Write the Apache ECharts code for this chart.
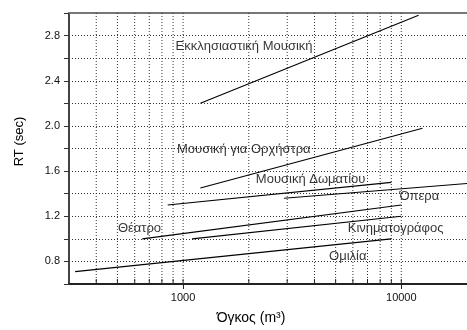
<!DOCTYPE html>
<html>
<head>
<meta charset="utf-8">
<script src="https://cdn.jsdelivr.net/npm/echarts@6/dist/echarts.min.js"></script>
<style>html,body{margin:0;padding:0;background:#fff;}#c{width:467px;height:330px;}</style>
</head>
<body>
<div id="c"></div>
<script>
// ---- data ----
const seriesNames = ['Εκκλησιαστική Μουσική', 'Μουσική για Ορχήστρα', 'Μουσική Δωματίου', 'Όπερα', 'Θέατρο', 'Κινηματογράφος', 'Ομιλία'];
const volumeStart = [1200, 1200, 850, 2900, 650, 1100, 320];
const volumeEnd   = [12000, 12500, 9000, 20000, 10000, 10000, 9000];
const rtStart     = [2.20, 1.45, 1.30, 1.36, 1.00, 1.00, 0.71];
const rtEnd       = [2.98, 1.98, 1.50, 1.49, 1.30, 1.20, 1.00];
// annotation anchors (data space: volume, RT)
const labelVolume = [918, 933, 2143, 9750, 500, 5650, 4640];
const labelRT     = [2.70, 1.79, 1.525, 1.373, 1.095, 1.092, 0.842];
// axes
const xMin = 300, xMax = 20000;
const yMin = 0.6, yMax = 3.0, yStep = 0.2;
const xMajorLabels = [1000, 10000];
const yLabelValues = [0.8, 1.2, 1.6, 2.0, 2.4, 2.8];
const xGridValues = [400, 500, 600, 700, 800, 900, 1000, 2000, 3000, 4000, 5000, 6000, 7000, 8000, 9000, 10000];

const FONT = 'Liberation Sans, Arial, sans-serif';
const chart = echarts.init(document.getElementById('c'));

const lineSeries = seriesNames.map((n, i) => ({
  name: n,
  type: 'line',
  xAxisIndex: 0,
  yAxisIndex: 0,
  data: [[volumeStart[i], rtStart[i]], [volumeEnd[i], rtEnd[i]]],
  showSymbol: false,
  symbol: 'none',
  lineStyle: { color: '#000', width: 1.1 },
  z: 5,
  silent: true
}));

const option = {
  animation: false,
  backgroundColor: '#fff',
  grid: { left: 69, right: -6, top: 13, bottom: 44, containLabel: false },
  xAxis: [{
    type: 'log',
    logBase: 10,
    min: xMin,
    max: xMax,
    name: 'Όγκος (m³)',
    nameLocation: 'middle',
    nameGap: 27,
    nameTextStyle: { fontFamily: FONT, fontSize: 14, color: '#000', padding: [0, 34, 0, 0] },
    axisLine: { show: true, lineStyle: { color: '#222', width: 2 } },
    axisTick: { show: true, inside: false, length: 5, lineStyle: { color: '#222', width: 1 } },
    axisLabel: {
      fontFamily: FONT, fontSize: 11, color: '#111', margin: 8,
      showMinLabel: false, showMaxLabel: false,
      formatter: v => (xMajorLabels.indexOf(Math.round(v)) >= 0 ? String(Math.round(v)) : '')
    },
    splitLine: { show: false },
    minorTick: { show: false }
  }, {
    type: 'log',
    logBase: 10,
    min: xMin,
    max: xMax,
    position: 'top',
    axisLine: { show: true, lineStyle: { color: '#777', width: 2 } },
    axisTick: { show: false },
    axisLabel: { show: false },
    splitLine: { show: false }
  }],
  yAxis: {
    type: 'value',
    min: yMin,
    max: yMax,
    interval: yStep,
    name: 'RT (sec)',
    nameLocation: 'middle',
    nameGap: 43,
    nameTextStyle: { fontFamily: FONT, fontSize: 13, color: '#000', padding: [0, 0, 0, 14] },
    axisLine: { show: true, lineStyle: { color: '#444', width: 2 } },
    axisTick: { show: true, inside: false, length: 5, lineStyle: { color: '#333' } },
    axisLabel: {
      fontFamily: FONT, fontSize: 11, color: '#111', margin: 9,
      formatter: v => (yLabelValues.some(t => Math.abs(t - v) < 1e-6) ? v.toFixed(1) : '')
    },
    splitLine: { show: true, lineStyle: { color: '#333', width: 1, type: [1, 2] } }
  },
  series: [
    {
      type: 'custom',
      name: 'grid',
      silent: true,
      z: 1,
      clip: true,
      data: xGridValues.map(v => [v, yMin]),
      encode: { x: 0, y: 1 },
      renderItem: (params, api) => {
        const v = api.value(0);
        const pb = api.coord([v, yMin]);
        const pt = api.coord([v, yMax]);
        return {
          type: 'group',
          children: [
            { type: 'line', shape: { x1: pb[0], y1: pt[1], x2: pb[0], y2: pb[1] },
              style: { stroke: '#333', lineWidth: 1, lineDash: [1, 2] } },
            { type: 'line', shape: { x1: pb[0], y1: pb[1] - 5, x2: pb[0], y2: pb[1] },
              style: { stroke: '#222', lineWidth: 1 } }
          ]
        };
      }
    },
    ...lineSeries,
    {
      type: 'scatter',
      name: 'labels',
      silent: true,
      symbolSize: 1,
      itemStyle: { color: 'rgba(0,0,0,0)' },
      z: 6,
      data: seriesNames.map((n, i) => [labelVolume[i], labelRT[i], n]),
      label: {
        show: true,
        position: 'right',
        distance: 0,
        fontFamily: FONT,
        fontSize: 13,
        color: '#000',
        formatter: p => p.data[2]
      }
    }
  ]
};
chart.setOption(option);
</script>
</body>
</html>
